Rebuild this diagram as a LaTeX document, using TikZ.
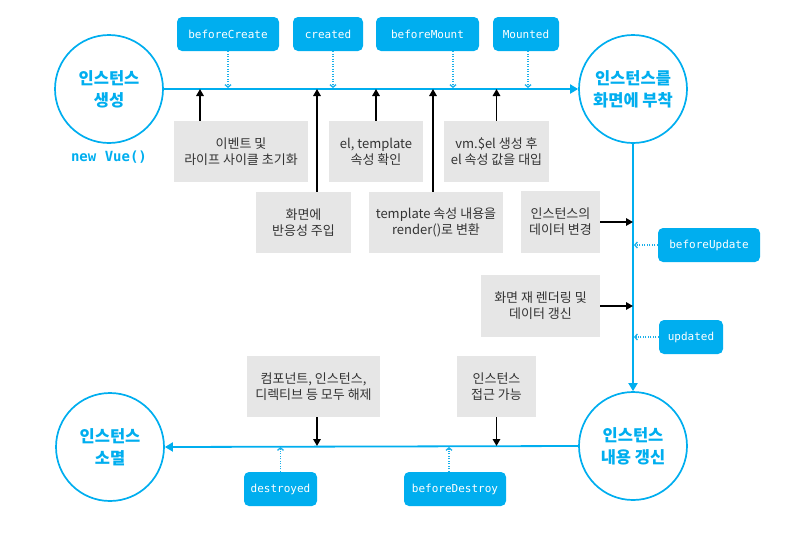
\documentclass[tikz,border=0pt]{standalone}
\usepackage{fontspec}
\setmainfont{Noto Sans CJK KR}
\newfontfamily\cjk{Noto Sans CJK KR}
\newfontfamily\hookmono{DejaVu Sans Mono}
\usetikzlibrary{arrows.meta}
\definecolor{vblue}{HTML}{00AEEF}
\definecolor{dotblue}{HTML}{1AAFEA}
\definecolor{boxgray}{HTML}{E6E6E6}
\definecolor{boxtext}{HTML}{333333}
\begin{document}
\begin{tikzpicture}[x=1pt,y=-1pt,
  circ/.style={circle, draw=vblue, line width=1.7pt, fill=white, minimum size=108pt, inner sep=0pt, align=center, text=vblue, font=\cjk\bfseries\fontsize{16.5}{22}\selectfont},
  hook/.style={rounded corners=5pt, fill=vblue, text=white, minimum height=34pt, inner sep=0pt, font=\hookmono\fontsize{11}{13}\selectfont},
  gbox/.style={fill=boxgray, minimum height=61pt, inner sep=0pt, align=center, text=boxtext, font=\cjk\fontsize{13}{16}\selectfont},
  flow/.style={draw=vblue, line width=1.8pt, -{Triangle[length=8pt,width=9pt]}},
  act/.style={draw=black, line width=1.6pt, -{Triangle[length=7pt,width=7.5pt]}},
  hk/.style={draw=dotblue, line width=1.3pt, dash pattern=on 1.2pt off 1.3pt, -{Straight Barb[length=2.5pt,width=6pt]}, shorten >=1pt}
]
\useasboundingbox (0,0) rectangle (792,542);

% circles
\node[circ] (c1) at (109,89) {인스턴스\\생성};
\node[circ] (c2) at (633,89) {인스턴스를\\화면에 부착};
\node[circ] (c3) at (633,446) {인스턴스\\내용 갱신};
\node[circ] (c4) at (110,447) {인스턴스\\소멸};
\node[font=\hookmono\bfseries\fontsize{14}{16}\selectfont, text=vblue] (nv) at (109,157) {new Vue()};

% main flow
\draw[flow] (c1.east) -- (c2.west);
\draw[flow] (c2.south) -- (c3.north);
\draw[flow] (c3.west) -- (c4.east);

% hooks
\node[hook, minimum width=102pt] (h1) at (228,34) {beforeCreate};
\node[hook, minimum width=70pt] (h2) at (328,34) {created};
\node[hook, minimum width=103pt] (h3) at (427.5,34) {beforeMount};
\node[hook, minimum width=66pt] (h4) at (526,34) {Mounted};
\node[hook, minimum width=102pt] (h5) at (709,245) {beforeUpdate};
\node[hook, minimum width=64pt] (h6) at (691,337) {updated};
\node[hook, minimum width=73pt] (h7) at (280.5,489) {destroyed};
\node[hook, minimum width=102pt] (h8) at (455,489) {beforeDestroy};

% gray boxes
\node[gbox, minimum width=134pt] (g1) at (241,151.5) {이벤트 및\\라이프 사이클 초기화};
\node[gbox, minimum width=95pt] (g2) at (303.5,222.5) {화면에\\반응성 주입};
\node[gbox, minimum width=94pt] (g3) at (376,151.5) {el, template\\속성 확인};
\node[gbox, minimum width=134pt] (g4) at (436,222.5) {template 속성 내용을\\render()로 변환};
\node[gbox, minimum width=105pt] (g5) at (496.5,151.5) {vm.\$el 생성 후\\el 속성 값을 대입};
\node[gbox, minimum width=79pt, minimum height=62pt] (g6) at (560.5,222) {인스턴스의\\데이터 변경};
\node[gbox, minimum width=119pt, minimum height=62pt] (g7) at (540.5,306) {화면 재 렌더링 및\\데이터 갱신};
\node[gbox, minimum width=133pt] (g8) at (313.5,386.5) {컴포넌트, 인스턴스,\\디렉티브 등 모두 해제};
\node[gbox, minimum width=79pt] (g9) at (496.5,386.5) {인스턴스\\접근 가능};

% black arrows
\coordinate (a1) at ([xshift=-41pt]g1.north);
\coordinate (a2) at ([xshift=13.5pt]g2.north);
\coordinate (a4) at ([xshift=-3pt]g4.north);
\coordinate (a8) at ([xshift=3.5pt]g8.south);
\draw[act] (a1) -- (a1 |- c2);
\draw[act] (a2) -- (a2 |- c2);
\draw[act] (g3.north) -- (g3.north |- c2);
\draw[act] (a4) -- (a4 |- c2);
\draw[act] (g5.north) -- (g5.north |- c2);
\draw[act] (g6.east) -- (g6.east -| c2);
\draw[act] (g7.east) -- (g7.east -| c2);
\draw[act] (a8) -- (a8 |- c3);
\draw[act] (g9.south) -- (g9.south |- c3);

% dotted hook arrows
\coordinate (d2) at ([xshift=5pt]h2.south);
\coordinate (d3) at ([xshift=25.5pt]h3.south);
\coordinate (d4) at ([xshift=2pt]h4.south);
\coordinate (d8) at ([xshift=-6pt]h8.north);
\draw[hk] (h1.south) -- (h1.south |- c2);
\draw[hk] (d2) -- (d2 |- c2);
\draw[hk] (d3) -- (d3 |- c2);
\draw[hk] (d4) -- (d4 |- c2);
\draw[hk] (h5.west) -- (h5.west -| c2);
\draw[hk] (h6.west) -- (h6.west -| c2);
\draw[hk] (h7.north) -- (h7.north |- c3);
\draw[hk] (d8) -- (d8 |- c3);
\end{tikzpicture}
\end{document}
